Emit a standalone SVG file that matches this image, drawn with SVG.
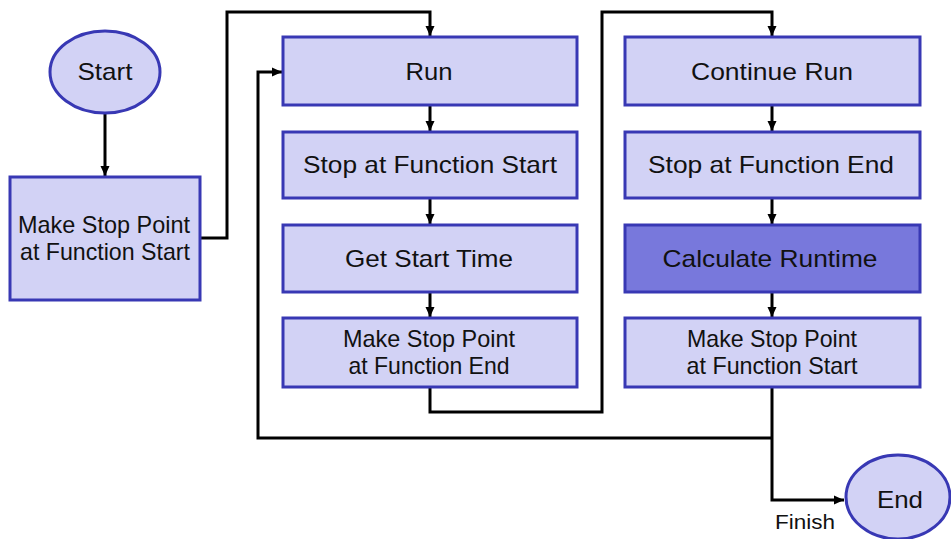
<svg xmlns="http://www.w3.org/2000/svg" width="951" height="539" viewBox="0 0 951 539">
  <style>
    .box { fill: #D2D2F5; stroke: #3838B4; stroke-width: 3; }
    .hot { fill: #7878DC; stroke: #3838B4; stroke-width: 3; }
    .lbl { font-family: "Liberation Sans", Arial, sans-serif; font-size: 24px; fill: #111; text-anchor: middle; }
    .sm { font-family: "Liberation Sans", Arial, sans-serif; font-size: 21px; fill: #111; text-anchor: middle; }
    .wire { fill: none; stroke: #000; stroke-width: 3; }
  </style>
  <defs>
    <marker id="arr" markerUnits="userSpaceOnUse" markerWidth="10" markerHeight="10" viewBox="0 0 10 10" refX="10" refY="5" orient="auto">
      <path d="M0,0.5 L10,5 L0,9.5 Z" fill="#000"/>
    </marker>
  </defs>
  <rect width="951" height="539" fill="#fff"/>

  <!-- connectors -->
  <g id="connectors" class="wire">
    <path d="M105,113 V176" marker-end="url(#arr)"/>
    <path d="M201,238 H227 V12 H430 V36" marker-end="url(#arr)"/>
    <path d="M430,105 V131" marker-end="url(#arr)"/>
    <path d="M430,198 V224" marker-end="url(#arr)"/>
    <path d="M430,292 V317" marker-end="url(#arr)"/>
    <path d="M430,387 V412 H602 V12 H772 V36" marker-end="url(#arr)"/>
    <path d="M772,105 V131" marker-end="url(#arr)"/>
    <path d="M772,198 V224" marker-end="url(#arr)"/>
    <path d="M772,292 V317" marker-end="url(#arr)"/>
    <path d="M772,387 V500 H844" marker-end="url(#arr)"/>
    <path d="M772,438 H258 V72 H282" marker-end="url(#arr)"/>
  </g>

  <g id="start">
    <ellipse class="box" cx="105" cy="72" rx="55" ry="41"/>
    <text class="lbl" x="105" y="80" textLength="55" lengthAdjust="spacingAndGlyphs">Start</text>
  </g>
  <g id="make-stop-start-1">
    <rect class="box" x="10" y="177" width="190" height="123"/>
    <text class="lbl" x="104" y="233" textLength="172" lengthAdjust="spacingAndGlyphs">Make Stop Point</text>
    <text class="lbl" x="105" y="260" textLength="170" lengthAdjust="spacingAndGlyphs">at Function Start</text>
  </g>
  <g id="run">
    <rect class="box" x="283" y="37" width="294" height="68"/>
    <text class="lbl" x="429" y="80" textLength="47" lengthAdjust="spacingAndGlyphs">Run</text>
  </g>
  <g id="stop-start">
    <rect class="box" x="283" y="132" width="294" height="66"/>
    <text class="lbl" x="430" y="173" textLength="254" lengthAdjust="spacingAndGlyphs">Stop at Function Start</text>
  </g>
  <g id="get-start-time">
    <rect class="box" x="283" y="225" width="294" height="67"/>
    <text class="lbl" x="429" y="267" textLength="168" lengthAdjust="spacingAndGlyphs">Get Start Time</text>
  </g>
  <g id="make-stop-end">
    <rect class="box" x="283" y="318" width="294" height="69"/>
    <text class="lbl" x="429" y="347" textLength="172" lengthAdjust="spacingAndGlyphs">Make Stop Point</text>
    <text class="lbl" x="429" y="374" textLength="161" lengthAdjust="spacingAndGlyphs">at Function End</text>
  </g>
  <g id="continue-run">
    <rect class="box" x="625" y="37" width="295" height="68"/>
    <text class="lbl" x="772" y="80" textLength="162" lengthAdjust="spacingAndGlyphs">Continue Run</text>
  </g>
  <g id="stop-end">
    <rect class="box" x="625" y="132" width="295" height="66"/>
    <text class="lbl" x="771" y="173" textLength="246" lengthAdjust="spacingAndGlyphs">Stop at Function End</text>
  </g>
  <g id="calculate-runtime">
    <rect class="hot" x="625" y="225" width="295" height="67"/>
    <text class="lbl" x="770" y="267" textLength="215" lengthAdjust="spacingAndGlyphs">Calculate Runtime</text>
  </g>
  <g id="make-stop-start-2">
    <rect class="box" x="625" y="318" width="295" height="69"/>
    <text class="lbl" x="772" y="347" textLength="170" lengthAdjust="spacingAndGlyphs">Make Stop Point</text>
    <text class="lbl" x="772" y="374" textLength="171" lengthAdjust="spacingAndGlyphs">at Function Start</text>
  </g>
  <g id="end">
    <ellipse class="box" cx="898" cy="497" rx="52" ry="42"/>
    <text class="lbl" x="900" y="508" textLength="46" lengthAdjust="spacingAndGlyphs">End</text>
  </g>
  <g id="finish-label">
    <text class="sm" x="805" y="529" textLength="60" lengthAdjust="spacingAndGlyphs">Finish</text>
  </g>
</svg>
